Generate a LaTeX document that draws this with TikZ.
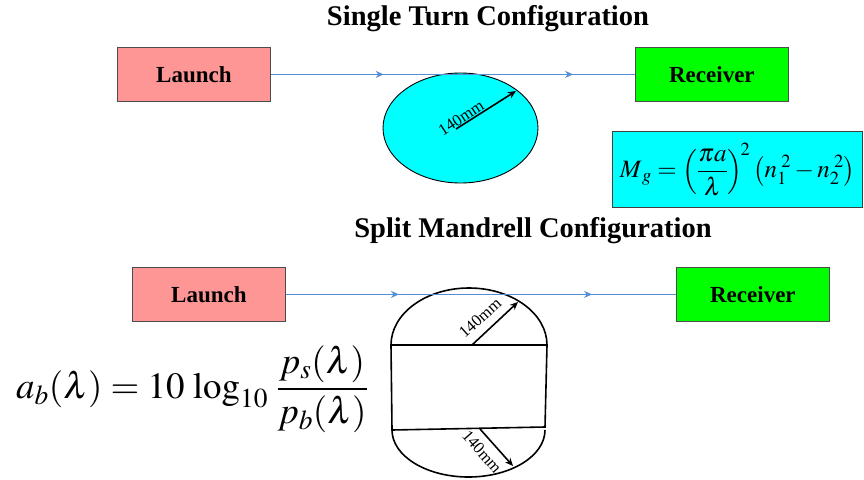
\documentclass[tikz,border=0pt]{standalone}
\usepackage{mathptmx}
\usepackage{fontspec}
\setmainfont{Liberation Serif}
\usetikzlibrary{arrows.meta,decorations.markings,shapes.geometric}
\definecolor{launchpink}{RGB}{255,150,150}
\definecolor{recgreen}{RGB}{0,255,0}
\definecolor{cyanfill}{RGB}{0,255,255}
\definecolor{lineblue}{RGB}{85,142,213}
\tikzset{
  boxst/.style={draw=black!70, line width=0.8pt, minimum width=153pt, minimum height=54pt, font=\fontsize{23}{26}\selectfont\bfseries, inner sep=0pt},
  titlest/.style={font=\fontsize{28.5}{32}\selectfont\bfseries},
  flow/.style={draw=lineblue, line width=1.4pt, postaction={decorate}},
  radarrow/.style={black, line width=1.6pt, -{Stealth[length=8pt,width=7pt]}},
  radlabel/.style={font=\fontsize{16.5}{18}\selectfont, inner sep=0pt},
  shapeline/.style={black, line width=1.6pt}
}
\begin{document}
\begin{tikzpicture}[x=1pt,y=-1pt]
\useasboundingbox (0,0) rectangle (864,479);
% top
\node[titlest] (t1) at (488,19) {Single Turn Configuration};
\node[boxst, fill=launchpink, anchor=north west] (l1) at (117,47) {Launch};
\node[boxst, fill=recgreen, anchor=north west] (r1) at (635,47) {Receiver};
\node[draw=black, line width=0.9pt, fill=cyanfill, ellipse, minimum width=155pt, minimum height=110pt, inner sep=0pt] (ell) at (460.5,128) {};
\draw[flow, decoration={markings,
   mark=at position 0.31 with {\arrow[lineblue]{Stealth[length=8pt,width=7pt]}},
   mark=at position 0.83 with {\arrow[lineblue]{Stealth[length=8pt,width=7pt]}}}]
  (l1.east) -- (r1.west);
\coordinate (c1) at (456,129);
\coordinate (e1) at (516,91);
\draw[radarrow] (c1) -- (e1);
\node[radlabel, rotate=33] (lab1) at (461,118) {140mm};
% formula box
\node[draw=black!75, line width=1pt, fill=cyanfill, minimum width=250pt, minimum height=76pt, anchor=north west, inner sep=0pt] (fb) at (612,131)
  {\fontsize{25}{28}\selectfont $\displaystyle M_{\,g} = \left(\frac{\pi a}{\lambda}\right)^{\!2}\left(n_1^{\;2} - n_2^{\;2}\right)$};
% bottom
\node[titlest] (t2) at (533,231) {Split Mandrell Configuration};
\node[boxst, fill=launchpink, anchor=north west] (l2) at (132,267) {Launch};
\node[boxst, fill=recgreen, anchor=north west] (r2) at (676,267) {Receiver};
% mandrel
\coordinate (tl) at (391,345);
\coordinate (tr) at (547,345);
\coordinate (bl) at (392,430);
\coordinate (br) at (545,427);
\draw[shapeline] (tl) arc[start angle=180, end angle=0, x radius=78pt, y radius=57pt];
\draw[shapeline] (tl) -- (tr) -- (br) -- (bl) -- cycle;
\draw[shapeline] (bl) arc[start angle=180, end angle=360, x radius=76.5pt, y radius=47pt];
\draw[flow, decoration={markings,
   mark=at position 0.29 with {\arrow[lineblue]{Stealth[length=8pt,width=7pt]}},
   mark=at position 0.785 with {\arrow[lineblue]{Stealth[length=8pt,width=7pt]}}}]
  (l2.east) -- (r2.west);
\coordinate (c2) at (472,345);
\coordinate (e2) at (518,302);
\draw[radarrow] (c2) -- (e2);
\node[radlabel, rotate=42] (lab2) at (480,318) {140mm};
\coordinate (c3) at (480,429);
\coordinate (e3) at (513,466);
\draw[radarrow] (c3) -- (e3);
\node[radlabel, rotate=-49] (lab3) at (482,452) {140mm};
% attenuation formula
\node[inner sep=0pt] (fa) at (192,389)
  {\fontsize{37}{42}\selectfont $\displaystyle a_b(\lambda) = 10\,\log_{10}\,\frac{p_s(\lambda)}{p_b(\lambda)}$};
\end{tikzpicture}
\end{document}
